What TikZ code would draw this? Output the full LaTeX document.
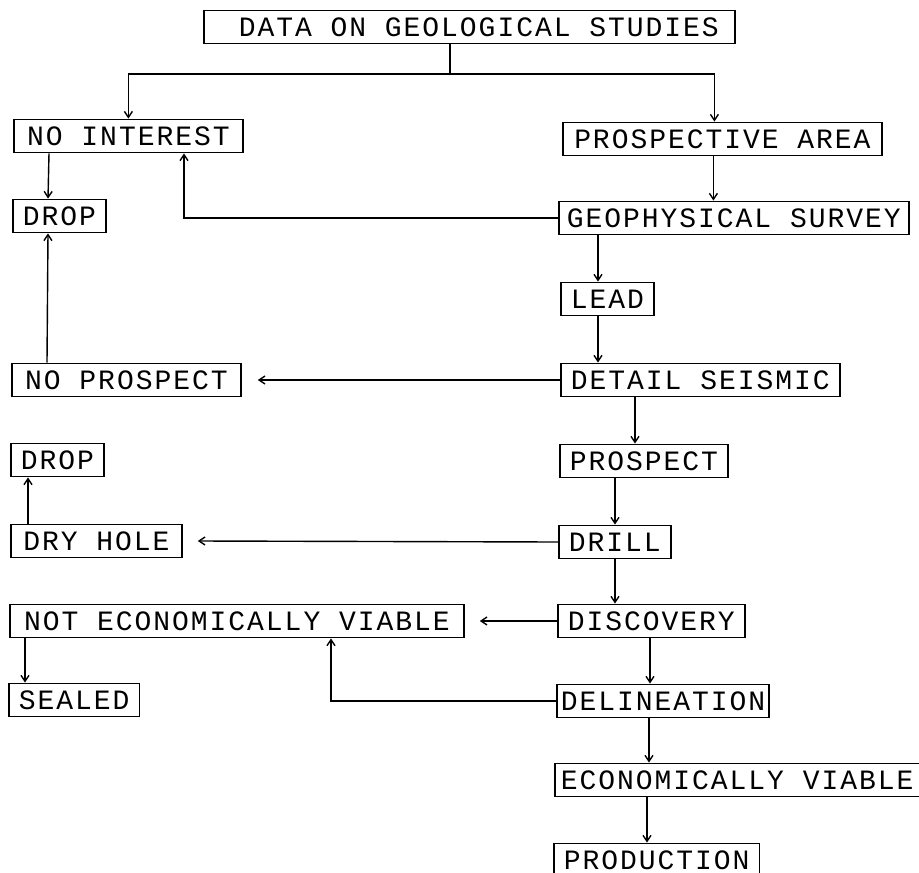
\documentclass[tikz,border=0pt]{standalone}
\usepackage{fontspec}
\newfontfamily\dotfont[LetterSpace=7]{Liberation Mono}
\usetikzlibrary{arrows.meta}

\tikzset{
  stage/.style={draw, line width=1.8pt, anchor=west, inner xsep=10pt,
    minimum height=33pt, font=\dotfont\fontsize{28}{30}\selectfont},
  flow/.style={->, line width=1.4pt}
}

\begin{document}
\begin{tikzpicture}[x=1pt,y=-1pt,>={Straight Barb[length=6pt,width=8pt]}]
  \useasboundingbox (0,0) rectangle (919,873);

  % main line on the right
  \node[stage,minimum width=531pt] (data) at (203,27) {\ DATA ON GEOLOGICAL STUDIES};
  \node[stage,minimum width=319pt] (prosparea) at (562,139) {PROSPECTIVE AREA};
  \node[stage,inner xsep=8pt] (geosurvey) at (558,218) {GEOPHYSICAL SURVEY};
  \node[stage] (lead) at (560,299) {LEAD};
  \node[stage] (seismic) at (560,380) {DETAIL SEISMIC};
  \node[stage] (prospect) at (559,461) {PROSPECT};
  \node[stage] (drill) at (558,542) {DRILL};
  \node[stage] (discovery) at (557,621) {DISCOVERY};
  \node[stage,inner xsep=4pt] (delineation) at (556,701) {DELINEATION};
  \node[stage,inner xsep=6pt] (viable) at (554,780) {ECONOMICALLY VIABLE};
  \node[stage] (production) at (553,860) {PRODUCTION};

  % dead ends on the left
  \node[stage,minimum width=229pt] (nointerest) at (13,136) {NO INTEREST};
  \node[stage] (dropa) at (12,216) {DROP};
  \node[stage,minimum width=229pt] (noprospect) at (11,380) {NO PROSPECT};
  \node[stage] (dropb) at (10,460) {DROP};
  \node[stage,minimum width=171pt] (dryhole) at (10,541) {DRY HOLE};
  \node[stage,minimum width=454pt] (notviable) at (9,621) {NOT ECONOMICALLY VIABLE};
  \node[stage] (sealed) at (8,700) {SEALED};

  \coordinate (fork) at (450,74);
  \draw[line width=1.4pt] (data.south -| fork) -- (fork);
  \draw[flow] (fork) -| (nointerest.north);
  \draw[flow] (fork) -| ([xshift=-8]prosparea.north);
  \draw[flow] ([xshift=-9]prosparea.south) -- ([xshift=-9]prosparea.south |- geosurvey.north);
  \draw[flow] (geosurvey.west) -| ([xshift=171]nointerest.south west);
  \draw[flow] ([xshift=36]nointerest.south west) -- ([xshift=36]dropa.north west);
  \draw[flow] ([xshift=40]geosurvey.south west) -- ([xshift=38]lead.north west);
  \draw[flow] ([xshift=38]lead.south west) -- ([xshift=38]seismic.north west);
  \draw[flow] (seismic.west) -- ([xshift=16]noprospect.east);
  \draw[flow] ([xshift=36]noprospect.north west) -- ([xshift=36]dropa.south west);
  \draw[flow] ([xshift=75]seismic.south west) -- ([xshift=76]prospect.north west);
  \draw[flow] ([xshift=56]prospect.south west) -- ([xshift=57]drill.north west);
  \draw[flow] (drill.west) -- ([xshift=15]dryhole.east);
  \draw[flow] ([xshift=18]dryhole.north west) -- ([xshift=18]dropb.south west);
  \draw[flow] ([xshift=57]drill.south west) -- ([xshift=58]discovery.north west);
  \draw[flow] (discovery.west) -- ([xshift=15]notviable.east);
  \draw[flow] ([xshift=16]notviable.south west) -- ([xshift=17]sealed.north west);
  \draw[flow] ([xshift=93]discovery.south west) -- ([xshift=94]delineation.north west);
  \draw[flow] (delineation.west) -| ([xshift=322]notviable.south west);
  \draw[flow] ([xshift=93]delineation.south west) -- ([xshift=95]viable.north west);
  \draw[flow] ([xshift=93]viable.south west) -- ([xshift=94]production.north west);
\end{tikzpicture}
\end{document}
